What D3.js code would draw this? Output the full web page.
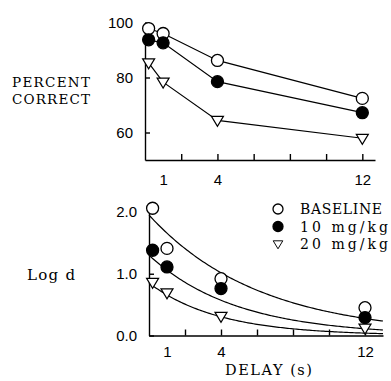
<!DOCTYPE html>
<html>
<head>
<meta charset="utf-8">
<script src="https://cdn.jsdelivr.net/npm/d3@7"></script>
<style>
  body { margin: 0; background: #fff; }
  svg { display: block; }
  .num { font-family: "Liberation Sans", Arial, sans-serif; font-size: 15px; fill: #000; }
  .lbl { font-family: "DejaVu Serif", "Liberation Serif", serif; fill: #000; }
</style>
</head>
<body>
<svg width="391" height="381"></svg>
<script>
// delays (s) of the four test conditions
const delays = [0.2, 1, 4, 12];

// percent correct, top panel
const pctBaseline = [97.8, 96, 86.2, 72.4];
const pct10 = [93.7, 92.6, 78.5, 67.2];
const pct20 = [85.3, 78.3, 64.4, 57.9];

// log d, bottom panel
const logdBaseline = [2.06, 1.41, 0.92, 0.45];
const logd10 = [1.38, 1.11, 0.76, 0.29];
const logd20 = [0.86, 0.69, 0.31, 0.12];

// exponential fits  a * exp(-b * t)
const fitA = [1.95, 1.3, 0.85];
const fitB = [0.163, 0.206, 0.258];

const seriesNames = ["BASELINE", "10 mg/kg", "20 mg/kg"];
const xTickMarks = [2, 4, 6, 8, 10, 12];
const xTickLabels = [1, 4, 12];
const pctTicks = [60, 80, 100];
const logdTicks = [0, 1, 2];

const svg = d3.select("svg");

const tri = "M-6,-4L6,-4L0,6Z";
function marker(sel, kind, r) {
  if (kind === 2) {
    sel.append("path").attr("d", tri).attr("fill", "#fff")
      .attr("stroke", "#000").attr("stroke-width", 1.2);
  } else {
    sel.append("circle").attr("r", r)
      .attr("fill", kind === 1 ? "#000" : "#fff")
      .attr("stroke", "#000").attr("stroke-width", 1.3);
  }
}

// ---------- top panel ----------
const x1 = d3.scaleLinear().domain([0, 12.7]).range([145, 375]);
const y1 = d3.scaleLinear().domain([50, 100]).range([160, 22.5]);

const gTop = svg.append("g");

gTop.append("g").attr("transform", "translate(0,160)")
  .call(d3.axisBottom(x1).tickValues(xTickMarks).tickSizeInner(-6).tickSizeOuter(0).tickFormat(""))
  .call(g => g.selectAll("path,line").attr("stroke", "#000").attr("stroke-width", 1.4));
gTop.append("g").attr("transform", "translate(0,160)")
  .call(d3.axisBottom(x1).tickValues(xTickLabels).tickSize(0).tickPadding(14))
  .call(g => g.select(".domain").remove())
  .call(g => g.selectAll("text").attr("class", "num").attr("font-size", null).attr("font-family", null));

gTop.append("g").attr("transform", "translate(145,0)")
  .call(d3.axisLeft(y1).tickValues(pctTicks).tickSizeInner(-5).tickSizeOuter(0).tickPadding(12))
  .call(g => g.selectAll("path,line").attr("stroke", "#000").attr("stroke-width", 1.4))
  .call(g => g.selectAll("text").attr("class", "num").attr("font-size", null).attr("font-family", null));

const topSeries = [pctBaseline, pct10, pct20];
const line1 = d3.line().x((d, i) => x1(delays[i])).y(d => y1(d));
topSeries.forEach(vals => {
  gTop.append("path").attr("d", line1(vals)).attr("fill", "none")
    .attr("stroke", "#000").attr("stroke-width", 1.2);
});
topSeries.forEach((vals, k) => {
  vals.forEach((v, i) => {
    const m = gTop.append("g").attr("transform", `translate(${x1(delays[i])},${y1(v)})`);
    marker(m, k, 6);
  });
});

svg.append("text").attr("class", "lbl").attr("x", 12).attr("y", 87)
  .attr("font-size", 13.5).attr("textLength", 78).attr("lengthAdjust", "spacing").text("PERCENT");
svg.append("text").attr("class", "lbl").attr("x", 12).attr("y", 104)
  .attr("font-size", 13.5).attr("textLength", 78).attr("lengthAdjust", "spacing").text("CORRECT");

// ---------- bottom panel ----------
const x2 = d3.scaleLinear().domain([0, 13]).range([149, 383]);
const y2 = d3.scaleLinear().domain([0, 2.15]).range([335.5, 202.7]);

const gBot = svg.append("g");

gBot.append("g").attr("transform", "translate(0,335.5)")
  .call(d3.axisBottom(x2).tickValues(xTickMarks).tickSizeInner(-6).tickSizeOuter(0).tickFormat(""))
  .call(g => g.selectAll("path,line").attr("stroke", "#000").attr("stroke-width", 1.4));
gBot.append("g").attr("transform", "translate(0,335.5)")
  .call(d3.axisBottom(x2).tickValues(xTickLabels).tickSize(0).tickPadding(11))
  .call(g => g.select(".domain").remove())
  .call(g => g.selectAll("text").attr("class", "num").attr("font-size", null).attr("font-family", null));

gBot.append("g").attr("transform", "translate(149,0)")
  .call(d3.axisLeft(y2).tickValues(logdTicks).tickSizeInner(-5).tickSizeOuter(0).tickPadding(12)
    .tickFormat(d3.format(".1f")))
  .call(g => g.selectAll("path,line").attr("stroke", "#000").attr("stroke-width", 1.4))
  .call(g => g.selectAll("text").attr("class", "num").attr("font-size", null).attr("font-family", null));

// fitted curves
const tGrid = d3.range(0, 13.01, 0.1);
const curve = d3.line().x(t => x2(t));
fitA.forEach((a, k) => {
  const b = fitB[k];
  gBot.append("path")
    .attr("d", curve.y(t => y2(a * Math.exp(-b * t)))(tGrid))
    .attr("fill", "none").attr("stroke", "#000").attr("stroke-width", 1.2);
});

const botSeries = [logdBaseline, logd10, logd20];
botSeries.forEach((vals, k) => {
  vals.forEach((v, i) => {
    const m = gBot.append("g").attr("transform", `translate(${x2(delays[i])},${y2(v)})`);
    marker(m, k, 6);
  });
});

// legend
const leg = svg.append("g").attr("transform", "translate(278,209)");
seriesNames.forEach((name, k) => {
  const row = leg.append("g").attr("transform", `translate(0,${k * 17.5})`);
  marker(row, k, 5);
  if (k === 2) row.select("path").attr("transform", "scale(0.8)");
  row.append("text").attr("class", "lbl").attr("x", 22).attr("y", 5)
    .attr("font-size", 14).attr("textLength", k === 0 ? 82 : 88)
    .attr("lengthAdjust", "spacing").text(name);
});

svg.append("text").attr("class", "lbl").attr("x", 27).attr("y", 280)
  .attr("font-size", 15).attr("textLength", 48).attr("lengthAdjust", "spacing").text("Log d");
svg.append("text").attr("class", "lbl").attr("x", 225).attr("y", 375)
  .attr("font-size", 14.5).attr("textLength", 87).attr("lengthAdjust", "spacing").text("DELAY (s)");
</script>
</body>
</html>
